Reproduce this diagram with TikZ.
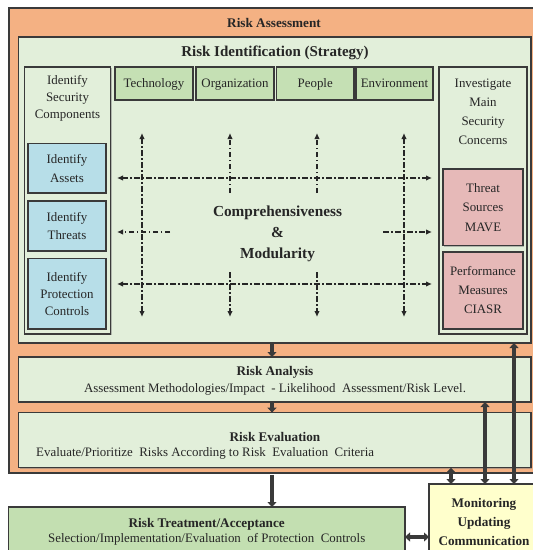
\documentclass[tikz,border=0pt]{standalone}
\usepackage{fontspec}
\setmainfont{Liberation Serif}
\usetikzlibrary{arrows.meta,calc,shadows}
\definecolor{orangeA}{HTML}{F4B183}
\definecolor{lgreen}{HTML}{E2EFDA}
\definecolor{mgreen}{HTML}{C5E0B4}
\definecolor{tgreen}{HTML}{C3DFB1}
\definecolor{lblue}{HTML}{B7DEE8}
\definecolor{lpink}{HTML}{E6B9B8}
\definecolor{lyellow}{HTML}{FFFFCC}
\definecolor{edgec}{HTML}{3A3A3A}
\definecolor{txtc}{HTML}{262626}
\newcommand\bx[7]{\node[#6,anchor=north west,minimum width=#4pt-#2pt,minimum height=#5pt-#3pt] (#1) at (#2,#3) {#7};}
\begin{document}
\begin{tikzpicture}[x=1pt,y=-1pt,
  box/.style={draw=edgec,line width=1.2pt,inner sep=0pt,outer sep=0pt,
    drop shadow={shadow xshift=1.3pt,shadow yshift=-1.3pt,fill=black!50}},
  txt/.style={font=\fontsize{12.9}{18.5}\selectfont,text=txtc,inner sep=0pt,align=center},
  btxt/.style={font=\bfseries\fontsize{13.2}{19.5}\selectfont,text=txtc,inner sep=0pt,align=center},
  bigarrow/.style={draw=edgec,line width=4pt,-{Triangle[width=9pt,length=5pt]}},
  bigdarrow/.style={draw=edgec,line width=4pt,{Triangle[width=9pt,length=5pt]}-{Triangle[width=9pt,length=5pt]}},
  dd/.style={draw=black!85,line width=1.3pt,dash pattern=on 5.5pt off 2.5pt on 1.5pt off 2.5pt,-{Latex[length=6pt,width=5.5pt]}},
  ddd/.style={dd,{Latex[length=6pt,width=5.5pt]}-{Latex[length=6pt,width=5.5pt]}}]
\clip (0,0) rectangle (533,550);
\fill[white] (0,0) rectangle (533,550);
% outer
\bx{ra}{9}{8}{545}{473}{box,fill=orangeA}{}
\node[btxt] (ratitle) at (274,23) {Risk Assessment};
% risk identification
\bx{rid}{18.7}{37}{531}{343}{box,fill=lgreen}{}
\node[btxt,font=\bfseries\fontsize{15}{18}\selectfont] (ridtitle) at (275,53) {Risk Identification (Strategy)};
% left column
\bx{lc}{24.5}{67}{110.5}{334}{box,fill=lgreen}{}
\node[txt,font=\fontsize{12.9}{17}\selectfont] (lct) at (67.5,98) {Identify\\Security\\Components};
\bx{assets}{28}{143.6}{106}{193}{box,fill=lblue,txt}{Identify\\Assets}
\bx{threats}{28}{201}{106}{251}{box,fill=lblue,txt}{Identify\\Threats}
\bx{prot}{28}{258.6}{106}{329}{box,fill=lblue,txt,font=\fontsize{12.9}{17}\selectfont}{Identify\\Protection\\Controls}
% categories
\bx{tech}{115}{67}{193}{100}{box,fill=mgreen,txt,text depth=0pt}{Technology}
\bx{org}{196}{67}{274}{100}{box,fill=mgreen,txt,text depth=0pt}{Organization}
\bx{peo}{276.5}{67}{354}{100}{box,fill=mgreen,txt,text depth=0pt}{People}
\bx{env}{356}{67}{433}{100}{box,fill=mgreen,txt,text depth=0pt}{Environment}
% right column
\bx{rc}{439}{67}{527}{334}{box,fill=lgreen}{}
\node[txt,font=\fontsize{12.9}{19}\selectfont] (rct) at (483,111.5) {Investigate\\Main\\Security\\Concerns};
\bx{tsrc}{443}{169}{523}{245.6}{box,fill=lpink,txt,font=\fontsize{12.9}{19.5}\selectfont}{Threat\\Sources\\MAVE}
\bx{perf}{443}{252}{523}{329}{box,fill=lpink,txt,font=\fontsize{12.9}{19}\selectfont}{Performance\\Measures\\CIASR}
% grid of dash-dot arrows
\foreach \n/\x in {1/142,2/230,3/317,4/404}{
  \coordinate (vt\n) at (\x,133);
  \coordinate (vb\n) at (\x,317);
  \coordinate (vm\n) at (\x,193);
  \coordinate (vn\n) at (\x,272);
}
\foreach \n/\y in {1/178,2/232,3/284}{
  \coordinate (hl\n) at (117,\y);
  \coordinate (hr\n) at (432,\y);
}
\coordinate (hm2a) at (170,232);
\coordinate (hm2b) at (383,232);
\draw[ddd] (vt1) -- (vb1);
\draw[ddd] (vt4) -- (vb4);
\draw[dd] (vm2) -- (vt2);
\draw[dd] (vn2) -- (vb2);
\draw[dd] (vm3) -- (vt3);
\draw[dd] (vn3) -- (vb3);
\draw[ddd] (hl1) -- (hr1);
\draw[ddd] (hl3) -- (hr3);
\draw[dd] (hm2a) -- (hl2);
\draw[dd] (hm2b) -- (hr2);
\node[btxt,font=\bfseries\fontsize{15.3}{21}\selectfont] (center) at (277.5,234) {Comprehensiveness\\\&\\Modularity};
% analysis & evaluation
\bx{ana}{18.7}{357}{531}{402}{box,fill=lgreen}{}
\node[btxt] (anat) at (275,372.5) {Risk Analysis};
\node[txt] (anas) at (275,389.5) {Assessment Methodologies/Impact \ - Likelihood \ Assessment/Risk Level.};
\bx{eva}{18.7}{412.6}{531}{467.7}{box,fill=lgreen}{}
\node[btxt] (evat) at (275,437) {Risk Evaluation};
\node[txt,anchor=west] (evas) at (36,453) {Evaluate/Prioritize \ Risks According to Risk \ Evaluation \ Criteria};
% treatment and monitoring
\bx{tr}{8.5}{507}{405}{553}{box,fill=tgreen}{}
\node[btxt] (trt) at (206.7,524) {Risk Treatment/Acceptance};
\node[txt] (trs) at (206.7,539) {Selection/Implementation/Evaluation \ of Protection \ Controls};
\bx{mon}{429}{484}{545}{553}{box,fill=lyellow}{}
\node[btxt,font=\bfseries\fontsize{13.2}{19}\selectfont] (mont) at (484,522) {Monitoring\\Updating\\Communication};
% thick arrows
\coordinate (xa) at (272,0);
\coordinate (m1) at (451,0);
\coordinate (m2) at (485,0);
\coordinate (m3) at (514,0);
\coordinate (my) at (0,537);
\draw[bigarrow] (rid.south -| xa) -- (ana.north -| xa);
\draw[bigarrow] (ana.south -| xa) -- (eva.north -| xa);
\draw[bigarrow] ($(ra.south -| xa)+(0,2)$) -- (tr.north -| xa);
\draw[bigdarrow] (tr.east |- my) -- (mon.west |- my);
\draw[bigdarrow] (mon.north -| m1) -- (eva.south -| m1);
\draw[bigdarrow] (mon.north -| m2) -- (ana.south -| m2);
\draw[bigdarrow] (mon.north -| m3) -- (rid.south -| m3);
\end{tikzpicture}
\end{document}
